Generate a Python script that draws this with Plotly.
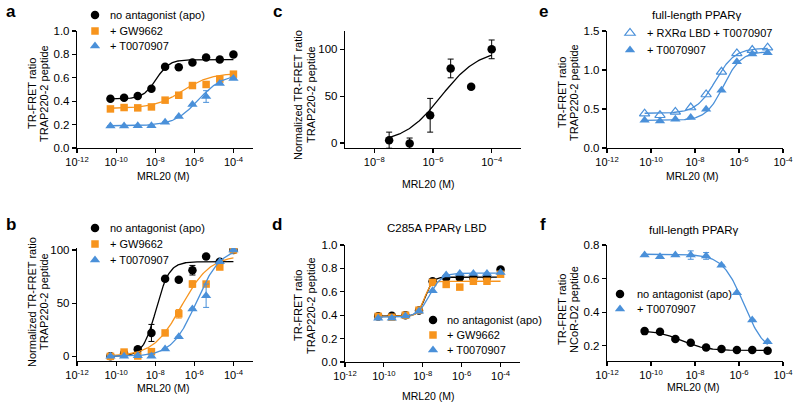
import numpy as np
import plotly.graph_objects as go

W, H = 800, 406
OFF = 0  # page body margin is removed by the post_script below
FONT = "Liberation Sans, Arial, Helvetica, sans-serif"
BLACK = "#000000"
ORANGE = "#F7941D"
BLUE = "#4A90D9"

# ---------------- data ----------------
conc_10 = [5.12e-11, 2.56e-10, 1.28e-9, 6.4e-9, 3.2e-8, 1.6e-7, 8e-7, 4e-6, 2e-5, 1e-4]
conc_9 = [5.12e-11, 2.56e-10, 1.28e-9, 6.4e-9, 3.2e-8, 1.6e-7, 8e-7, 4e-6, 2e-5]
conc_6 = [3.2e-8, 1.6e-7, 8e-7, 4e-6, 2e-5, 1e-4]

x_tickvals = [1e-12, 1e-10, 1e-8, 1e-6, 1e-4]
x_ticktext = ["10<sup>-12</sup>", "10<sup>-10</sup>", "10<sup>-8</sup>", "10<sup>-6</sup>", "10<sup>-4</sup>"]
c_tickvals = [1e-8, 1e-6, 1e-4]
c_ticktext = ["10<sup>\u22128</sup>", "10<sup>\u22126</sup>", "10<sup>\u22124</sup>"]

# panel a
a_apo = [0.42, 0.43, 0.445, 0.506, 0.694, 0.691, 0.731, 0.774, 0.757, 0.80]
a_gw = [0.334, 0.346, 0.343, 0.351, 0.409, 0.451, 0.534, 0.543, 0.589, 0.631]
a_t007 = [0.189, 0.189, 0.191, 0.191, 0.22, 0.269, 0.371, 0.44, 0.551, 0.594]
a_t007_err = [0, 0, 0, 0, 0, 0, 0, 0.05, 0, 0]
# fit parameters: [low asymptote, high asymptote, logEC50, hill]
a_apo_fit = [0.42, 0.755, -7.95, 1.3]
a_gw_fit = [0.338, 0.64, -6.6, 0.6]
a_t007_fit = [0.19, 0.63, -5.8, 0.7]

# panel b
b_apo = [0, 2.6, 6.6, 22, 73, 72, 81, 94, 89, 100]
b_apo_err = [0, 0, 0, 8, 0, 0, 4.5, 0, 0, 0]
b_gw = [0, 4, 0.3, 4.4, 22, 40, 68, 68, 84, 100]
b_gw_err = [0, 0, 0, 0, 0, 4, 3, 0, 0, 0]
b_t007 = [0, 0, 0.6, 0, 7, 18.5, 44.5, 57, 89, 100]
b_t007_err = [0, 0, 0, 0, 0, 0, 0, 11, 0, 0]
b_apo_fit = [0, 89, -7.95, 1.3]
b_gw_fit = [0, 95, -6.65, 0.6]
b_t007_fit = [0, 102, -5.9, 0.7]

# panel c
c_vals = [3, -0.5, 29.6, 79.6, 60, 100]
c_err = [8.6, 5.8, 18, 10, 0, 10]
c_fit = [0, 100, -5.72, 0.68]

# panel d
d_apo = [0.39, 0.395, 0.40, 0.44, 0.69, 0.72, 0.72, 0.72, 0.72, 0.79]
d_gw = [0.39, 0.383, 0.40, 0.443, 0.68, 0.663, 0.64, 0.69, 0.69, 0.75]
d_t007 = [0.374, 0.374, 0.394, 0.434, 0.609, 0.743, 0.757, 0.757, 0.757, 0.766]
d_apo_fit = [0.392, 0.725, -7.87, 2.3]
d_gw_fit = [0.39, 0.69, -7.93, 2.5]
d_t007_fit = [0.383, 0.76, -7.65, 1.4]

# panel e
e_rxr_t007 = [0.44, 0.42, 0.463, 0.519, 0.686, 0.977, 1.213, 1.256, 1.286]
e_t007 = [0.356, 0.347, 0.369, 0.39, 0.497, 0.74, 1.106, 1.204, 1.22]
e_rxr_t007_fit = [0.445, 1.28, -7.07, 1.0]
e_t007_fit = [0.355, 1.235, -6.71, 1.1]

# panel f
f_apo = [0.287, 0.283, 0.24, 0.218, 0.19, 0.18, 0.175, 0.175, 0.17]
f_t007 = [0.74, 0.73, 0.74, 0.74, 0.735, 0.68, 0.516, 0.353, 0.224]
f_t007_err = [0, 0, 0, 0.025, 0.02, 0, 0, 0, 0]
f_apo_fit = [0.29, 0.172, -8.6, 0.8]
f_t007_fit = [0.745, 0.15, -5.78, 0.9]

LBL_APO = "no antagonist (apo)"
LBL_GW = "+ GW9662"
LBL_T = "+ T0070907"
LBL_RXR = "+ RXR\u03b1 LBD + T0070907"


def px(x):
    return (x - OFF) / W


def py(y):
    return 1 - (y - OFF) / H


def curve(conc, p, n=150):
    lo, hi, c, h = p
    lx = np.linspace(np.log10(min(conc)), np.log10(max(conc)), n)
    y = lo + (hi - lo) / (1 + 10 ** ((c - lx) * h))
    return 10 ** lx, y


fig = go.Figure()

MK = {
    "circle": dict(symbol="circle", size=8.5),
    "square": dict(symbol="square", size=7.5),
    "tri": dict(symbol="triangle-up", size=9),
    "tri-open": dict(symbol="triangle-up-open", size=9),
}

leg_counter = [0]
legend_layouts = {}
anns = []
LFONT = 11


def ann(x, y, text, size=11, bold=False, angle=0, xanchor="center"):
    t = f"<b>{text}</b>" if bold else text
    anns.append(dict(x=px(x), y=py(y), xref="paper", yref="paper", text=t,
                     showarrow=False, xanchor=xanchor, yanchor="middle",
                     textangle=angle, font=dict(family=FONT, size=size, color=BLACK)))


def add_series(ax, conc, vals, err, fit, color, mk, label=None, key=None):
    xa = "x" if ax == 1 else f"x{ax}"
    ya = "y" if ax == 1 else f"y{ax}"
    cx, cy = curve(conc, fit)
    fig.add_trace(go.Scatter(x=cx, y=cy, mode="lines", xaxis=xa, yaxis=ya,
                             line=dict(color=color, width=1.3), showlegend=False,
                             hoverinfo="skip"))
    m = dict(MK[mk])
    m["color"] = color
    if mk == "tri-open":
        m["line"] = dict(color=color, width=1.2)
    else:
        m["line"] = dict(width=0)
    tr = dict(x=conc, y=vals, mode="markers", xaxis=xa, yaxis=ya, marker=m,
              name="", showlegend=label is not None)
    if label is not None:
        # key = (marker centre x, row centre y, text left x) in page pixels
        mxp, myp, txp = key
        leg_counter[0] += 1
        lid = "legend" if leg_counter[0] == 1 else f"legend{leg_counter[0]}"
        tr["legend"] = lid
        legend_layouts[lid] = dict(
            x=px(mxp - 20), y=py(myp), xanchor="left", yanchor="middle",
            font=dict(family=FONT, size=LFONT, color=BLACK),
            bgcolor="rgba(0,0,0,0)", borderwidth=0, itemwidth=30,
            tracegroupgap=0)
        ann(txp, myp, label, size=LFONT, xanchor="left")
    if err is not None:
        tr["error_y"] = dict(type="data", array=err, visible=True, color=color,
                             thickness=1, width=3)
    fig.add_trace(go.Scatter(**tr))


# a
add_series(1, conc_10, a_apo, None, a_apo_fit, BLACK, "circle", LBL_APO, (95, 15, 108))
add_series(1, conc_10, a_gw, None, a_gw_fit, ORANGE, "square", LBL_GW, (95, 31, 108))
add_series(1, conc_10, a_t007, a_t007_err, a_t007_fit, BLUE, "tri", LBL_T, (95, 46, 108))
# b
add_series(2, conc_10, b_apo, b_apo_err, b_apo_fit, BLACK, "circle", LBL_APO, (95, 228, 108))
add_series(2, conc_10, b_gw, b_gw_err, b_gw_fit, ORANGE, "square", LBL_GW, (95, 244, 108))
add_series(2, conc_10, b_t007, b_t007_err, b_t007_fit, BLUE, "tri", LBL_T, (95, 260, 108))
# c
add_series(3, conc_6, c_vals, c_err, c_fit, BLACK, "circle")
# d
add_series(4, conc_10, d_apo, None, d_apo_fit, BLACK, "circle", LBL_APO, (433, 320, 445))
add_series(4, conc_10, d_gw, None, d_gw_fit, ORANGE, "square", LBL_GW, (433, 335, 445))
add_series(4, conc_10, d_t007, None, d_t007_fit, BLUE, "tri", LBL_T, (433, 350, 445))
# e
add_series(5, conc_9, e_rxr_t007, None, e_rxr_t007_fit, BLUE, "tri-open", LBL_RXR, (630, 33, 645))
add_series(5, conc_9, e_t007, None, e_t007_fit, BLUE, "tri", LBL_T, (630, 50, 645))
# f
add_series(6, conc_9, f_apo, None, f_apo_fit, BLACK, "circle", LBL_APO, (620, 294, 635))
add_series(6, conc_9, f_t007, f_t007_err, f_t007_fit, BLUE, "tri", LBL_T, (620, 309, 635))

# ---------------- axes ----------------
panels = {
    1: dict(xd=(77, 253), yd=(31, 148), xr=[-12, -3], yr=[0, 1.0],
            yt=[0, 0.2, 0.4, 0.6, 0.8, 1.0], yfmt=".1f", ct=False),
    2: dict(xd=(77, 253), yd=(248, 361), xr=[-12, -3], yr=[-4.4, 101.9],
            yt=[0, 50, 100], yfmt="d", ct=False),
    3: dict(xd=(345, 521), yd=(31, 148), xr=[-9, -3], yr=[-5.35, 119.6],
            yt=[0, 50, 100], yfmt="d", ct=True),
    4: dict(xd=(345, 520), yd=(245, 362), xr=[-12, -3], yr=[0, 1.0],
            yt=[0, 0.2, 0.4, 0.6, 0.8, 1.0], yfmt=".1f", ct=False),
    5: dict(xd=(607, 783), yd=(31, 148), xr=[-12, -4], yr=[0, 1.5],
            yt=[0, 0.5, 1.0, 1.5], yfmt=".1f", ct=False),
    6: dict(xd=(607, 783), yd=(245, 361), xr=[-12, -4], yr=[0.109, 0.8],
            yt=[0.2, 0.4, 0.6, 0.8], yfmt=".1f", ct=False),
}

ytickfont = dict(family=FONT, size=11.5, color=BLACK)
xtickfont = dict(family=FONT, size=11, color=BLACK)
layout = {}
for i, p in panels.items():
    xk = "xaxis" if i == 1 else f"xaxis{i}"
    yk = "yaxis" if i == 1 else f"yaxis{i}"
    ya = "y" if i == 1 else f"y{i}"
    xa = "x" if i == 1 else f"x{i}"
    layout[xk] = dict(
        type="log", domain=[px(p["xd"][0]), px(p["xd"][1])], range=p["xr"],
        anchor=ya, showline=True, linecolor=BLACK, linewidth=1.2,
        ticks="outside", ticklen=4, tickwidth=1.2, tickcolor=BLACK,
        showgrid=False, zeroline=False, tickfont=xtickfont,
        tickmode="array",
        tickvals=c_tickvals if p["ct"] else x_tickvals,
        ticktext=c_ticktext if p["ct"] else x_ticktext,
        fixedrange=True, automargin=False,
    )
    layout[yk] = dict(
        domain=[py(p["yd"][1]), py(p["yd"][0])], range=p["yr"], anchor=xa,
        showline=True, linecolor=BLACK, linewidth=1.2,
        ticks="outside", ticklen=4, tickwidth=1.2, tickcolor=BLACK,
        showgrid=False, zeroline=False, tickfont=ytickfont,
        tickmode="array", tickvals=p["yt"], tickformat=p["yfmt"],
        fixedrange=True, automargin=False,
    )

fig.update_layout(**layout)
fig.update_layout(**legend_layouts)

# ---------------- annotations ----------------
for lt, x, y in [("a", 11, 11), ("b", 11, 224), ("c", 277, 12),
                 ("d", 277, 224), ("e", 543, 11), ("f", 543, 224)]:
    ann(x, y, lt, size=17, bold=True)

for x, y in [(163, 175.5), (163, 387.5), (428, 183.5), (428, 396), (692, 175.5), (693, 386.5)]:
    ann(x, y, "MRL20 (M)", size=10.5)

ytitles = [
    (32, 44, 94, "TR-FRET ratio", "TRAP220-2 peptide"),
    (32, 44, 302, "Normalized TR-FRET ratio", "TRAP220-2 peptide"),
    (298, 311, 95, "Normalized TR-FRET ratio", "TRAP220-2 peptide"),
    (298, 311, 306, "TR-FRET ratio", "TRAP220-2 peptide"),
    (562, 574, 93, "TR-FRET ratio", "TRAP220-2 peptide"),
    (562, 574, 310, "TR-FRET ratio", "NCoR-D2 peptide"),
]
for x1, x2, y, t1, t2 in ytitles:
    ann(x1, y, t1, size=11, angle=-90)
    ann(x2, y, t2, size=11, angle=-90)

ann(437, 228, "C285A PPAR\u03b3 LBD", size=11.5)
ann(697, 15, "full-length PPAR\u03b3", size=11.5)
ann(694, 230, "full-length PPAR\u03b3", size=11.5)

fig.update_layout(
    annotations=anns,
    width=W, height=H,
    margin=dict(l=0, r=0, t=0, b=0, autoexpand=False),
    paper_bgcolor="white", plot_bgcolor="white",
    font=dict(family=FONT, size=11, color=BLACK),
    hovermode=False,
)

fig.write_html(
    "out.html",
    config={"displayModeBar": False, "staticPlot": True},
    post_script="document.body.style.margin='0';document.body.style.overflow='hidden';",
)
